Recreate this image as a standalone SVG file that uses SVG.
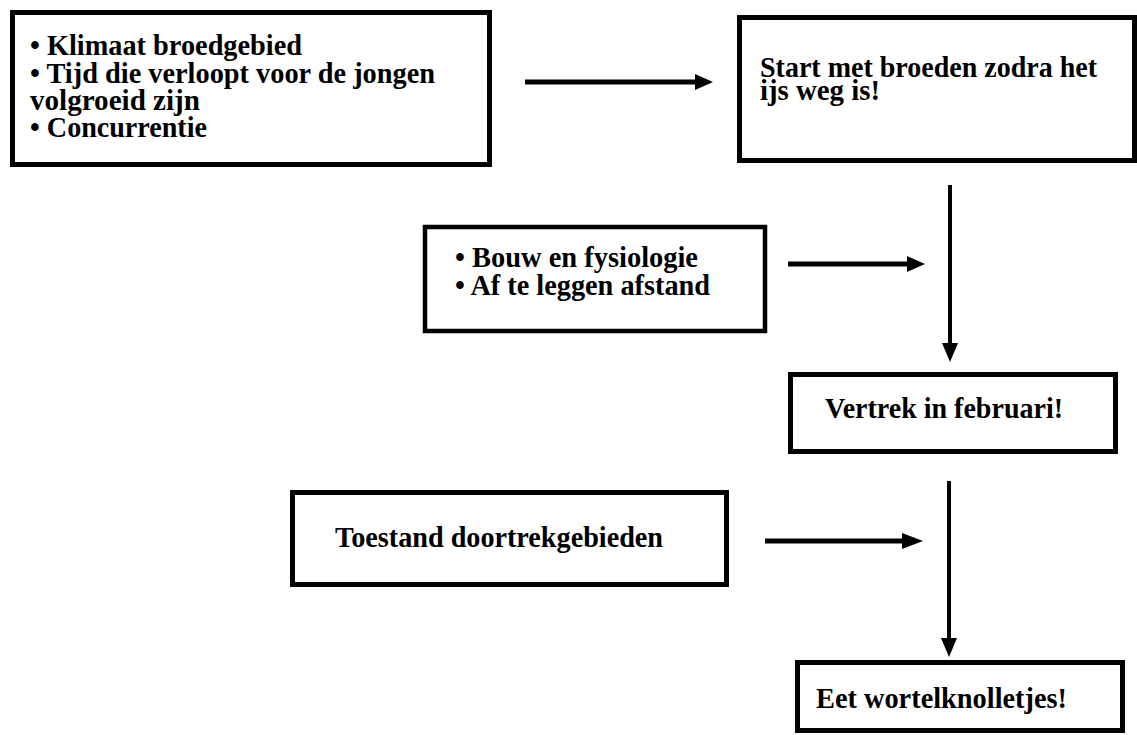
<svg xmlns="http://www.w3.org/2000/svg" width="1137" height="735" viewBox="0 0 1137 735">
<style>
.box{fill:#fff;stroke:#000;stroke-width:5}
.t{font-family:"Liberation Serif","Times New Roman",serif;font-weight:bold;font-size:30px;fill:#000}
.ln{stroke:#000;stroke-width:5;fill:none}
.lv{stroke:#000;stroke-width:4;fill:none}
.hd{fill:#000}
</style>
<rect width="1137" height="735" fill="#fff"/>
<g id="node-factors1">
<rect class="box" x="12.5" y="12.5" width="477" height="152"/>
<text class="t" x="30" y="55" textLength="272" lengthAdjust="spacingAndGlyphs">• Klimaat broedgebied</text>
<text class="t" x="30" y="82.5" textLength="405" lengthAdjust="spacingAndGlyphs">• Tijd die verloopt voor de jongen</text>
<text class="t" x="30" y="110" textLength="170" lengthAdjust="spacingAndGlyphs">volgroeid zijn</text>
<text class="t" x="30" y="137" textLength="177" lengthAdjust="spacingAndGlyphs">• Concurrentie</text>
</g>
<g id="node-start">
<rect class="box" x="739.5" y="17.5" width="395" height="143"/>
<text class="t" x="760" y="77" textLength="337" lengthAdjust="spacingAndGlyphs">Start met broeden zodra het</text>
<text class="t" x="760" y="100" textLength="120" lengthAdjust="spacingAndGlyphs">ijs weg is!</text>
</g>
<g id="node-factors2">
<rect class="box" x="425" y="227" width="340" height="104" style="stroke-width:4.5"/>
<text class="t" x="455" y="267" textLength="243" lengthAdjust="spacingAndGlyphs">• Bouw en fysiologie</text>
<text class="t" x="455" y="295" textLength="255" lengthAdjust="spacingAndGlyphs">• Af te leggen afstand</text>
</g>
<g id="node-vertrek">
<rect class="box" x="790.5" y="374.5" width="325" height="77"/>
<text class="t" x="825" y="418" textLength="238" lengthAdjust="spacingAndGlyphs">Vertrek in februari!</text>
</g>
<g id="node-toestand">
<rect class="box" x="292.5" y="492.5" width="434" height="92"/>
<text class="t" x="335" y="547" textLength="328" lengthAdjust="spacingAndGlyphs">Toestand doortrekgebieden</text>
</g>
<g id="node-eet">
<rect class="box" x="797.5" y="662.5" width="325" height="68"/>
<text class="t" x="816" y="708" textLength="251" lengthAdjust="spacingAndGlyphs">Eet wortelknolletjes!</text>
</g>
<g id="connectors">
<line class="ln" x1="525" y1="82" x2="697" y2="82"/>
<polygon class="hd" points="695,74 713,82 695,90"/>
<line class="lv" x1="950" y1="185" x2="950" y2="345"/>
<polygon class="hd" points="942,343 950,362 958,343"/>
<line class="ln" x1="788" y1="264" x2="909" y2="264"/>
<polygon class="hd" points="907,256 925,264 907,272"/>
<line class="lv" x1="949" y1="481" x2="949" y2="640"/>
<polygon class="hd" points="941,638 949,657 957,638"/>
<line class="ln" x1="765" y1="541" x2="904" y2="541"/>
<polygon class="hd" points="902,533 923,541 902,549"/>
</g>
</svg>
